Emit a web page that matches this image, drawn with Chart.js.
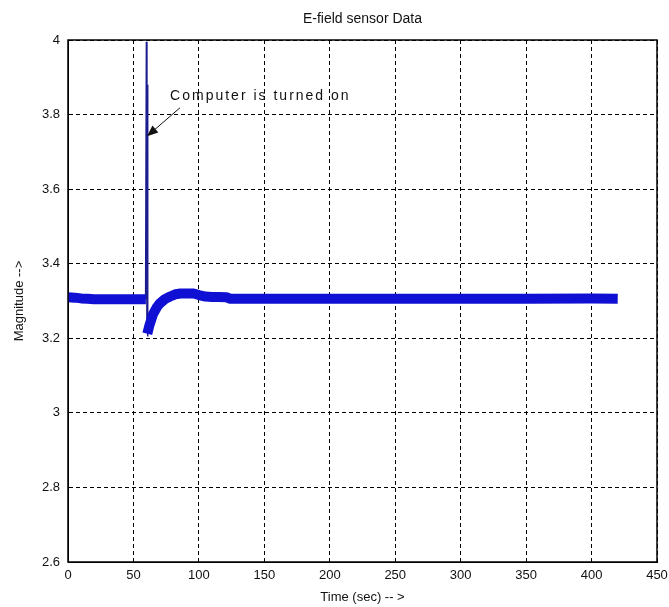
<!DOCTYPE html>
<html>
<head>
<meta charset="utf-8">
<script src="https://cdn.jsdelivr.net/npm/chart.js@4/dist/chart.umd.min.js"></script>
<style>
  html, body { margin: 0; padding: 0; background: #ffffff; }
  #wrap { width: 669px; height: 607px; }
</style>
</head>
<body>
<div id="wrap"><canvas id="c" width="669" height="607"></canvas></div>
<script>
// ---- data ----
const bandTime  = [0, 5, 10, 15, 20, 30, 40, 50, 59.5, 60, 60.6, 62, 65, 68, 70, 74, 78, 82, 86, 90, 96, 100, 105, 110, 115, 121, 124, 130, 150, 200, 250, 300, 350, 400, 420];
const bandValue = [3.31, 3.309, 3.307, 3.306, 3.305, 3.305, 3.305, 3.305, 3.305, null, 3.212, 3.232, 3.265, 3.284, 3.293, 3.305, 3.312, 3.318, 3.32, 3.32, 3.32, 3.316, 3.312, 3.311, 3.311, 3.31, 3.306, 3.306, 3.306, 3.306, 3.306, 3.306, 3.306, 3.307, 3.306];
const spikeTime  = [59.3, 59.9, 60.3, 60.6, 60.9];
const spikeValue = [3.305, 3.995, 3.25, 3.88, 3.205];
const xTicks = [0, 50, 100, 150, 200, 250, 300, 350, 400, 450];
const yTicks = [2.6, 2.8, 3, 3.2, 3.4, 3.6, 3.8, 4];
const annotationText = 'Computer is turned on';
const annotationTextAt = [78, 3.85];
const arrowFrom = [85.5, 3.818];
const arrowTo = [60.4, 3.742];

const toPoints = (xs, ys) => xs.map((x, i) => ({ x: x, y: ys[i] }));

const FONT = 'Liberation Sans, Arial, Helvetica, sans-serif';

const framePlugin = {
  id: 'frame',
  afterDatasetsDraw(chart) {
    const ctx = chart.ctx;
    const a = chart.chartArea;
    const xs = chart.scales.x, ys = chart.scales.y;
    ctx.save();
    // annotation text
    ctx.fillStyle = '#111111';
    ctx.font = '14px ' + FONT;
    try { ctx.letterSpacing = '2px'; } catch (e) {}
    ctx.textBaseline = 'middle';
    ctx.textAlign = 'left';
    ctx.fillText(annotationText, xs.getPixelForValue(annotationTextAt[0]), ys.getPixelForValue(annotationTextAt[1]));
    try { ctx.letterSpacing = '0px'; } catch (e) {}
    // arrow
    const x1 = xs.getPixelForValue(arrowFrom[0]), y1 = ys.getPixelForValue(arrowFrom[1]);
    const x2 = xs.getPixelForValue(arrowTo[0]), y2 = ys.getPixelForValue(arrowTo[1]);
    const ang = Math.atan2(y2 - y1, x2 - x1);
    const L = 11, W = 4.5;
    ctx.strokeStyle = '#111111';
    ctx.lineWidth = 1;
    ctx.beginPath();
    ctx.moveTo(x1, y1);
    ctx.lineTo(x2 - Math.cos(ang) * L * 0.8, y2 - Math.sin(ang) * L * 0.8);
    ctx.stroke();
    ctx.beginPath();
    ctx.moveTo(x2, y2);
    ctx.lineTo(x2 - Math.cos(ang) * L - Math.sin(ang) * W, y2 - Math.sin(ang) * L + Math.cos(ang) * W);
    ctx.lineTo(x2 - Math.cos(ang) * L + Math.sin(ang) * W, y2 - Math.sin(ang) * L - Math.cos(ang) * W);
    ctx.closePath();
    ctx.fillStyle = '#111111';
    ctx.fill();
    // frame
    ctx.strokeStyle = '#000000';
    ctx.lineWidth = 1.5;
    ctx.strokeRect(a.left, a.top, a.right - a.left, a.bottom - a.top);
    ctx.restore();
  }
};

new Chart(document.getElementById('c'), {
  type: 'line',
  data: {
    datasets: [
      {
        label: 'band',
        data: toPoints(bandTime, bandValue),
        borderColor: '#1010d4',
        borderWidth: 10,
        borderJoinStyle: 'round',
        borderCapStyle: 'butt',
        pointRadius: 0,
        tension: 0,
        spanGaps: false,
        fill: false
      },
      {
        label: 'spike',
        data: toPoints(spikeTime, spikeValue),
        borderColor: '#1c1c8e',
        borderWidth: 1.5,
        pointRadius: 0,
        tension: 0,
        fill: false
      }
    ]
  },
  options: {
    responsive: false,
    animation: false,
    events: [],
    layout: { padding: { left: 0, right: 12, top: 0, bottom: 0 } },
    plugins: {
      legend: { display: false },
      tooltip: { enabled: false },
      title: {
        display: true,
        text: 'E-field sensor Data',
        fullSize: false,
        color: '#111111',
        font: { family: FONT, size: 14, weight: 'normal' },
        padding: { top: 11, bottom: 12.2 }
      }
    },
    scales: {
      x: {
        type: 'linear',
        min: 0,
        max: 450,
        afterFit(scale) { scale.height = 45; scale.paddingLeft = 0; scale.paddingRight = 0; },
        afterBuildTicks(scale) { scale.ticks = xTicks.map(v => ({ value: v })); },
        ticks: {
          color: '#111111',
          font: { family: FONT, size: 13 },
          padding: 6,
          maxRotation: 0,
          autoSkip: false
        },
        grid: { color: '#000000', lineWidth: 1, drawTicks: false },
        border: { display: true, color: '#000000', dash: [4, 3] },
        title: {
          display: true,
          text: 'Time (sec) -- >',
          color: '#111111',
          font: { family: FONT, size: 13 },
          padding: { top: 0, bottom: 2 }
        }
      },
      y: {
        type: 'linear',
        min: 2.6,
        max: 4,
        afterFit(scale) { scale.width = 68; },
        afterBuildTicks(scale) { scale.ticks = yTicks.map(v => ({ value: v })); },
        ticks: {
          color: '#111111',
          font: { family: FONT, size: 13 },
          padding: 8,
          autoSkip: false,
          callback: v => String(Number(Number(v).toFixed(1)))
        },
        grid: { color: '#000000', lineWidth: 1, drawTicks: false },
        border: { display: true, color: '#000000', dash: [4, 3] },
        title: {
          display: true,
          text: 'Magnitude -->',
          color: '#111111',
          font: { family: FONT, size: 13 },
          padding: { top: 12, bottom: 0 }
        }
      }
    }
  },
  plugins: [framePlugin]
});
</script>
</body>
</html>
